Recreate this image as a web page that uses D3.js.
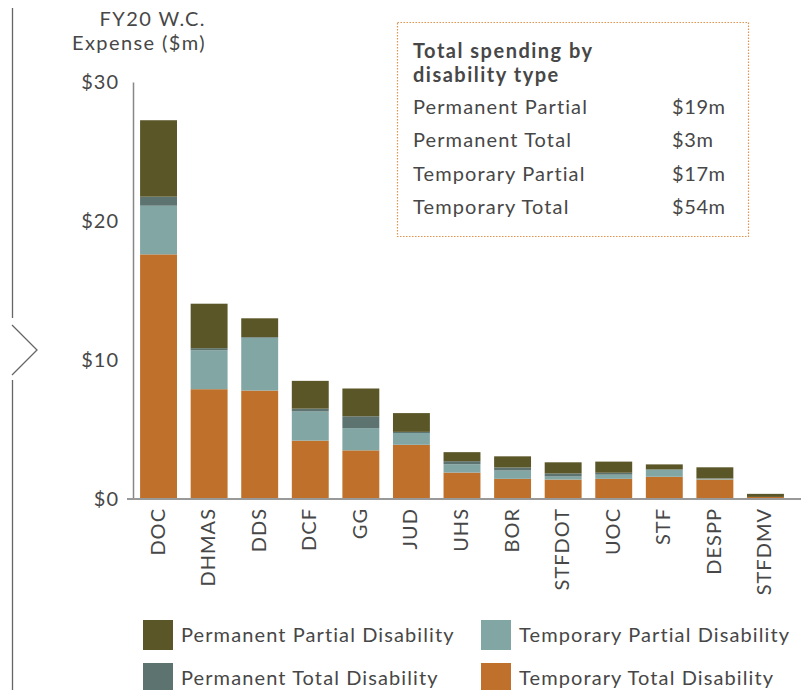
<!DOCTYPE html>
<html>
<head>
<meta charset="utf-8" />
<title>FY20 W.C. Expense</title>
<script src="https://cdn.jsdelivr.net/npm/d3@7/dist/d3.min.js"></script>
<style>
  body { margin: 0; background: #fff; }
  svg text { font-family: Lato, "Open Sans", sans-serif; fill: #474747; font-weight: 400; letter-spacing: 0.6px; }
</style>
</head>
<body>
<div id="chart"></div>
<script>
// agencies, in chart order
var agencies = ["DOC", "DHMAS", "DDS", "DCF", "GG", "JUD", "UHS", "BOR", "STFDOT", "UOC", "STF", "DESPP", "STFDMV"];

// $m per disability type
var tempTotal    = [17.6, 7.9, 7.8, 4.2, 3.5, 3.9, 1.9, 1.45, 1.4, 1.45, 1.6, 1.4, 0.15];
var tempPartial  = [3.5, 2.8, 3.8, 2.1, 1.6, 0.85, 0.6, 0.6, 0.22, 0.3, 0.5, 0.06, 0];
var permTotal    = [0.65, 0.15, 0.05, 0.2, 0.85, 0.08, 0.22, 0.22, 0.22, 0.14, 0.03, 0.02, 0];
var permPartial  = [5.5, 3.2, 1.35, 2.0, 2.0, 1.35, 0.65, 0.8, 0.8, 0.8, 0.36, 0.8, 0.22];

var yTicks = [0, 10, 20, 30];

var seriesKeys = ["tt", "tp", "pt", "pp"];
var seriesNames = {
  pp: "Permanent Partial Disability",
  tp: "Temporary Partial Disability",
  pt: "Permanent Total Disability",
  tt: "Temporary Total Disability"
};
var colors = { pp: "#5a5628", pt: "#5c736f", tp: "#81a6a4", tt: "#bf712c" };

var summaryLabels = ["Permanent Partial", "Permanent Total", "Temporary Partial", "Temporary Total"];
var summaryValues = ["$19m", "$3m", "$17m", "$54m"];

var rows = agencies.map(function (a, i) {
  return { agency: a, tt: tempTotal[i], tp: tempPartial[i], pt: permTotal[i], pp: permPartial[i] };
});

var width = 801, height = 690;

var svg = d3.select("#chart").append("svg")
    .attr("width", width)
    .attr("height", height);

var x = d3.scaleBand()
    .domain(agencies)
    .range([133, 791])
    .paddingInner(0.27)
    .paddingOuter(0.14);

var y = d3.scaleLinear()
    .domain([0, 30])
    .range([499, 82]);

// left side rule with chevron
svg.append("path")
    .attr("d", "M12.5,8V318M12.5,380V690M12,325L37,350L12,375")
    .attr("fill", "none")
    .attr("stroke", "#666")
    .attr("stroke-width", 1.3);

// axis title
svg.append("text").attr("x", 206).attr("y", 26).attr("text-anchor", "end")
    .style("font-size", "20px").style("letter-spacing", "1.4px").text("FY20 W.C.");
svg.append("text").attr("x", 206).attr("y", 50).attr("text-anchor", "end")
    .style("font-size", "20px").style("letter-spacing", "1.4px").text("Expense ($m)");

// stacked bars
var stack = d3.stack().keys(seriesKeys);
var layers = stack(rows);

svg.append("g")
  .selectAll("g")
  .data(layers)
  .enter().append("g")
    .attr("fill", function (d) { return colors[d.key]; })
  .selectAll("rect")
  .data(function (d) { return d; })
  .enter().append("rect")
    .attr("x", function (d) { return x(d.data.agency); })
    .attr("width", x.bandwidth())
    .attr("y", function (d) { return y(d[1]); })
    .attr("height", function (d) { return y(d[0]) - y(d[1]); });

// y axis
var yAxis = svg.append("g")
    .attr("transform", "translate(133,0)")
    .call(d3.axisLeft(y).tickValues(yTicks).tickSize(0).tickPadding(14)
      .tickFormat(function (d) { return "$" + d; }));
yAxis.select(".domain").attr("stroke", "#888").attr("stroke-width", 1.5);
yAxis.selectAll("text").style("font-size", "20px").style("letter-spacing", "1px").attr("fill", "#474747");

// baseline
svg.append("line")
    .attr("x1", 127).attr("x2", 801)
    .attr("y1", y(0)).attr("y2", y(0))
    .attr("stroke", "#999").attr("stroke-width", 2);

// x labels
var xAxis = svg.append("g")
    .attr("transform", "translate(0," + y(0) + ")")
    .call(d3.axisBottom(x).tickSize(0).tickPadding(0));
xAxis.select(".domain").remove();
xAxis.selectAll("text")
    .attr("transform", "rotate(-90)")
    .attr("x", -9)
    .attr("y", -1)
    .attr("dy", "0.35em")
    .attr("text-anchor", "end")
    .style("font-size", "20px")
    .style("letter-spacing", "1px")
    .attr("fill", "#474747");

// summary box
var box = svg.append("g");
box.append("rect")
    .attr("x", 397.5).attr("y", 22.5)
    .attr("width", 351).attr("height", 214)
    .attr("fill", "none")
    .attr("stroke", "#e0944f")
    .attr("stroke-width", 1.2)
    .attr("stroke-dasharray", "1.5,1.5");
box.append("text").attr("x", 413).attr("y", 58)
    .style("font-size", "20px").style("font-weight", "bold").style("letter-spacing", "1.5px")
    .attr("fill", "#2b2b2b")
    .text("Total spending by");
box.append("text").attr("x", 413).attr("y", 82)
    .style("font-size", "20px").style("font-weight", "bold").style("letter-spacing", "1.5px")
    .attr("fill", "#2b2b2b")
    .text("disability type");
box.selectAll(".slab")
  .data(summaryLabels)
  .enter().append("text")
    .attr("x", 413)
    .attr("y", function (d, i) { return 114 + i * 33.3; })
    .style("font-size", "20px").style("letter-spacing", "1.1px")
    .text(function (d) { return d; });
box.selectAll(".sval")
  .data(summaryValues)
  .enter().append("text")
    .attr("x", 672)
    .attr("y", function (d, i) { return 114 + i * 33.3; })
    .style("font-size", "20px").style("letter-spacing", "0.6px")
    .text(function (d) { return d; });

// legend
var legendOrder = ["pp", "tp", "pt", "tt"];
var legend = svg.append("g");
var lg = legend.selectAll("g")
  .data(legendOrder)
  .enter().append("g")
    .attr("transform", function (d, i) {
      return "translate(" + (143 + (i % 2) * 338) + "," + (620 + Math.floor(i / 2) * 43) + ")";
    });
lg.append("rect")
    .attr("width", 30).attr("height", 30)
    .attr("fill", function (d) { return colors[d]; });
lg.append("text")
    .attr("x", 38).attr("y", 15).attr("dy", "0.35em")
    .style("font-size", "20px").style("letter-spacing", "1.1px")
    .text(function (d) { return seriesNames[d]; });
</script>
</body>
</html>
